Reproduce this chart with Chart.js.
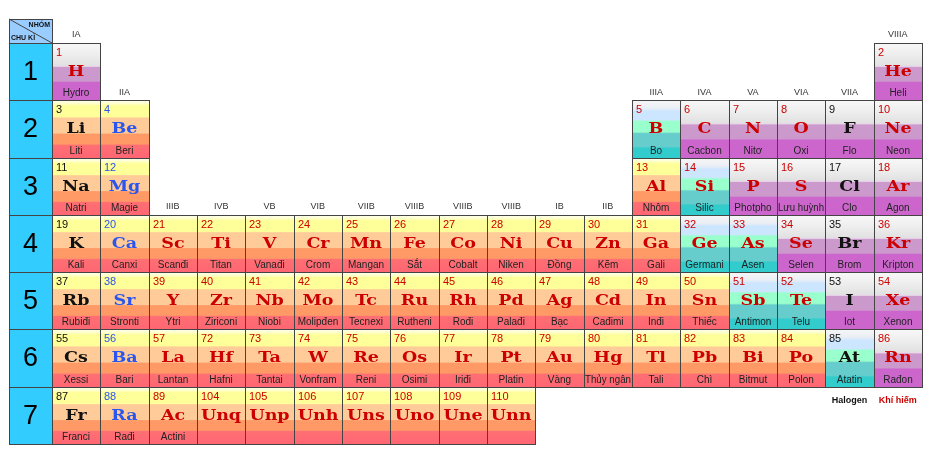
<!DOCTYPE html>
<html lang="vi">
<head>
<meta charset="UTF-8">
<title>Bảng tuần hoàn các nguyên tố</title>
<script src="https://cdn.jsdelivr.net/npm/chart.js"></script>
<style>
  body { margin: 0; background: #fff; }
  #wrap { width: 952px; height: 470px; position: relative; }
</style>
</head>
<body>
<div id="wrap"><canvas id="table"></canvas></div>
<script>
// element data, in order of atomic number as shown
const numbers = [1, 2,
  3, 4, 5, 6, 7, 8, 9, 10,
  11, 12, 13, 14, 15, 16, 17, 18,
  19, 20, 21, 22, 23, 24, 25, 26, 27, 28, 29, 30, 31, 32, 33, 34, 35, 36,
  37, 38, 39, 40, 41, 42, 43, 44, 45, 46, 47, 48, 49, 50, 51, 52, 53, 54,
  55, 56, 57, 72, 73, 74, 75, 76, 77, 78, 79, 80, 81, 82, 83, 84, 85, 86,
  87, 88, 89, 104, 105, 106, 107, 108, 109, 110];
const symbols = ['H', 'He',
  'Li', 'Be', 'B', 'C', 'N', 'O', 'F', 'Ne',
  'Na', 'Mg', 'Al', 'Si', 'P', 'S', 'Cl', 'Ar',
  'K', 'Ca', 'Sc', 'Ti', 'V', 'Cr', 'Mn', 'Fe', 'Co', 'Ni', 'Cu', 'Zn', 'Ga', 'Ge', 'As', 'Se', 'Br', 'Kr',
  'Rb', 'Sr', 'Y', 'Zr', 'Nb', 'Mo', 'Tc', 'Ru', 'Rh', 'Pd', 'Ag', 'Cd', 'In', 'Sn', 'Sb', 'Te', 'I', 'Xe',
  'Cs', 'Ba', 'La', 'Hf', 'Ta', 'W', 'Re', 'Os', 'Ir', 'Pt', 'Au', 'Hg', 'Tl', 'Pb', 'Bi', 'Po', 'At', 'Rn',
  'Fr', 'Ra', 'Ac', 'Unq', 'Unp', 'Unh', 'Uns', 'Uno', 'Une', 'Unn'];
const names = ['Hydro', 'Heli',
  'Liti', 'Beri', 'Bo', 'Cacbon', 'Nitơ', 'Oxi', 'Flo', 'Neon',
  'Natri', 'Magie', 'Nhôm', 'Silic', 'Photpho', 'Lưu huỳnh', 'Clo', 'Agon',
  'Kali', 'Canxi', 'Scanđi', 'Titan', 'Vanađi', 'Crom', 'Mangan', 'Sắt', 'Cobalt', 'Niken', 'Đồng', 'Kẽm', 'Gali', 'Germani', 'Asen', 'Selen', 'Brom', 'Kripton',
  'Rubiđi', 'Stronti', 'Ytri', 'Ziriconi', 'Niobi', 'Molipđen', 'Tecnexi', 'Rutheni', 'Rođi', 'Palađi', 'Bạc', 'Cađimi', 'Inđi', 'Thiếc', 'Antimon', 'Telu', 'Iot', 'Xenon',
  'Xessi', 'Bari', 'Lantan', 'Hafni', 'Tantai', 'Vonfram', 'Reni', 'Osimi', 'Iriđi', 'Platin', 'Vàng', 'Thủy ngân', 'Tali', 'Chì', 'Bitmut', 'Polon', 'Atatin', 'Rađon',
  'Franci', 'Rađi', 'Actini', '', '', '', '', '', '', ''];
const groups = [1, 18,
  1, 2, 13, 14, 15, 16, 17, 18,
  1, 2, 13, 14, 15, 16, 17, 18,
  1, 2, 3, 4, 5, 6, 7, 8, 9, 10, 11, 12, 13, 14, 15, 16, 17, 18,
  1, 2, 3, 4, 5, 6, 7, 8, 9, 10, 11, 12, 13, 14, 15, 16, 17, 18,
  1, 2, 3, 4, 5, 6, 7, 8, 9, 10, 11, 12, 13, 14, 15, 16, 17, 18,
  1, 2, 3, 4, 5, 6, 7, 8, 9, 10];
const periods = [1, 1,
  2, 2, 2, 2, 2, 2, 2, 2,
  3, 3, 3, 3, 3, 3, 3, 3,
  4, 4, 4, 4, 4, 4, 4, 4, 4, 4, 4, 4, 4, 4, 4, 4, 4, 4,
  5, 5, 5, 5, 5, 5, 5, 5, 5, 5, 5, 5, 5, 5, 5, 5, 5, 5,
  6, 6, 6, 6, 6, 6, 6, 6, 6, 6, 6, 6, 6, 6, 6, 6, 6, 6,
  7, 7, 7, 7, 7, 7, 7, 7, 7, 7];
// m = kim loại, t = á kim, n = phi kim / khí hiếm
const kinds = ['n', 'n',
  'm', 'm', 't', 'n', 'n', 'n', 'n', 'n',
  'm', 'm', 'm', 't', 'n', 'n', 'n', 'n',
  'm', 'm', 'm', 'm', 'm', 'm', 'm', 'm', 'm', 'm', 'm', 'm', 'm', 't', 't', 'n', 'n', 'n',
  'm', 'm', 'm', 'm', 'm', 'm', 'm', 'm', 'm', 'm', 'm', 'm', 'm', 'm', 't', 't', 'n', 'n',
  'm', 'm', 'm', 'm', 'm', 'm', 'm', 'm', 'm', 'm', 'm', 'm', 'm', 'm', 'm', 'm', 't', 'n',
  'm', 'm', 'm', 'm', 'm', 'm', 'm', 'm', 'm', 'm'];
const groupLabels = ['IA', 'IIA', 'IIIB', 'IVB', 'VB', 'VIB', 'VIIB', 'VIIIB', 'VIIIB', 'VIIIB',
  'IB', 'IIB', 'IIIA', 'IVA', 'VA', 'VIA', 'VIIA', 'VIIIA'];
const periodLabels = ['1', '2', '3', '4', '5', '6', '7'];
const legendLabels = ['Halogen', 'Khí hiếm'];

const STOPS = {
  m: [[0, '#fffff4'], [0.06, '#ffffcc'], [0.1, '#ffff99'], [0.29, '#ffff99'], [0.31, '#ffcc99'],
      [0.57, '#ffcc99'], [0.59, '#ff9966'], [0.76, '#ff9966'], [0.78, '#ff6f73'], [1, '#ff6673']],
  n: [[0, '#f8f8f8'], [0.2, '#eeeeee'], [0.38, '#e2e2e2'], [0.41, '#e8d8e8'], [0.43, '#cc99cc'],
      [0.67, '#cc99cc'], [0.69, '#cc66cc'], [1, '#cc66cc']],
  t: [[0, '#f6f6f6'], [0.14, '#eaeef4'], [0.2, '#cce6ff'], [0.34, '#cce6ff'], [0.37, '#99ffcc'],
      [0.55, '#99ffcc'], [0.58, '#66cccc'], [0.8, '#66cccc'], [0.83, '#33cccc'], [1, '#33cccc']]
};
const PERIOD_COL = 0.89;   // width of the period column, in column units
const HEAD_H = 0.42;       // height of the "nhóm / chu kì" header, in row units

function textColor(i) {
  if (groups[i] === 1 && periods[i] > 1) return '#111';
  if (groups[i] === 2) return '#2a55ee';
  if (groups[i] === 17) return '#111';
  return '#cc0000';
}

const tablePlugin = {
  id: 'tablePlugin',
  afterDatasetsDraw(chart) {
    const ctx = chart.ctx;
    const xs = chart.scales.x, ys = chart.scales.y;
    const px = v => Math.round(xs.getPixelForValue(v));
    const py = v => Math.round(ys.getPixelForValue(v));
    ctx.save();

    // header cell
    const hx0 = px(0.5 - PERIOD_COL), hx1 = px(0.5), hy0 = py(0.5 - HEAD_H), hy1 = py(0.5);
    ctx.fillStyle = '#99ccff';
    ctx.fillRect(hx0, hy0, hx1 - hx0, hy1 - hy0);
    ctx.strokeStyle = '#444';
    ctx.lineWidth = 1;
    ctx.strokeRect(hx0 + 0.5, hy0 + 0.5, hx1 - hx0, hy1 - hy0);
    ctx.beginPath();
    ctx.moveTo(hx0, hy0);
    ctx.lineTo(hx1, hy1);
    ctx.stroke();
    ctx.fillStyle = '#111';
    ctx.font = 'bold 7px "Liberation Sans"';
    ctx.textAlign = 'right';
    ctx.textBaseline = 'middle';
    ctx.fillText('NHÓM', hx1 - 2, hy0 + 6);
    ctx.textAlign = 'left';
    ctx.fillText('CHU KÌ', hx0 + 2, hy1 - 5);

    // period column
    periodLabels.forEach((lab, k) => {
      const r = k + 1;
      const y0 = py(r - 0.5), y1 = py(r + 0.5);
      ctx.fillStyle = '#33ccff';
      ctx.fillRect(hx0, y0, hx1 - hx0, y1 - y0);
      ctx.strokeStyle = '#444';
      ctx.strokeRect(hx0 + 0.5, y0 + 0.5, hx1 - hx0, y1 - y0);
      ctx.fillStyle = '#000';
      ctx.font = '27px "Liberation Sans"';
      ctx.textAlign = 'center';
      ctx.textBaseline = 'middle';
      ctx.fillText(lab, (hx0 + hx1) / 2, (y0 + y1) / 2 + 1);
    });

    // group labels, above the first cell of each column
    ctx.fillStyle = '#333';
    ctx.font = '9px "Liberation Sans"';
    ctx.textAlign = 'center';
    ctx.textBaseline = 'middle';
    groupLabels.forEach((lab, k) => {
      const g = k + 1;
      let top = 99;
      groups.forEach((gg, i) => { if (gg === g) top = Math.min(top, periods[i]); });
      ctx.fillText(lab, xs.getPixelForValue(g), ys.getPixelForValue(top - 0.64));
    });

    // element cells
    numbers.forEach((num, i) => {
      const x0 = px(groups[i] - 0.5), x1 = px(groups[i] + 0.5);
      const y0 = py(periods[i] - 0.5), y1 = py(periods[i] + 0.5);
      const w = x1 - x0, h = y1 - y0;
      const grad = ctx.createLinearGradient(0, y0, 0, y1);
      STOPS[kinds[i]].forEach(s => grad.addColorStop(s[0], s[1]));
      ctx.fillStyle = grad;
      ctx.fillRect(x0, y0, w, h);
    });
    numbers.forEach((num, i) => {
      const x0 = px(groups[i] - 0.5), x1 = px(groups[i] + 0.5);
      const y0 = py(periods[i] - 0.5), y1 = py(periods[i] + 0.5);
      const w = x1 - x0, h = y1 - y0;
      ctx.strokeStyle = '#444';
      ctx.strokeRect(x0 + 0.5, y0 + 0.5, w, h);

      const col = textColor(i);
      ctx.fillStyle = col;
      ctx.font = '11px "Liberation Sans"';
      ctx.textAlign = 'left';
      ctx.textBaseline = 'middle';
      ctx.fillText(String(num), x0 + 4, y0 + h * 0.18);

      ctx.save();
      ctx.translate(x0 + w / 2, y0 + h * 0.51);
      ctx.scale(1.25, 1);
      ctx.font = 'bold 14px "DejaVu Serif"';
      ctx.textAlign = 'center';
      ctx.fillText(symbols[i], 0, 0);
      ctx.restore();

      if (names[i]) {
        ctx.fillStyle = '#222';
        ctx.font = '10px "Liberation Sans"';
        ctx.textAlign = 'center';
        ctx.fillText(names[i], x0 + w / 2, y0 + h * 0.88, w - 2);
      }
    });

    // legend labels under VIIA and VIIIA
    ctx.font = 'bold 9px "Liberation Sans"';
    ctx.textAlign = 'center';
    ctx.fillStyle = '#111';
    ctx.fillText(legendLabels[0], xs.getPixelForValue(17), ys.getPixelForValue(6.74));
    ctx.fillStyle = '#cc0000';
    ctx.fillText(legendLabels[1], xs.getPixelForValue(18), ys.getPixelForValue(6.74));

    ctx.restore();
  }
};

const cellData = numbers.map((n, i) => ({ x: groups[i], y: periods[i] }));

new Chart(document.getElementById('table').getContext('2d'), {
  type: 'scatter',
  data: {
    datasets: [{ label: 'Nguyên tố', data: cellData, pointRadius: 0, pointHoverRadius: 0 }]
  },
  options: {
    responsive: true,
    maintainAspectRatio: false,
    animation: false,
    layout: { padding: { left: 52, right: 30, top: 43, bottom: 26 } },
    scales: {
      x: { type: 'linear', min: 0.5, max: 18.5, display: false },
      y: { type: 'linear', min: 0.5, max: 7.5, reverse: true, display: false }
    },
    plugins: { legend: { display: false }, tooltip: { enabled: false } }
  },
  plugins: [tablePlugin]
});
</script>
</body>
</html>
